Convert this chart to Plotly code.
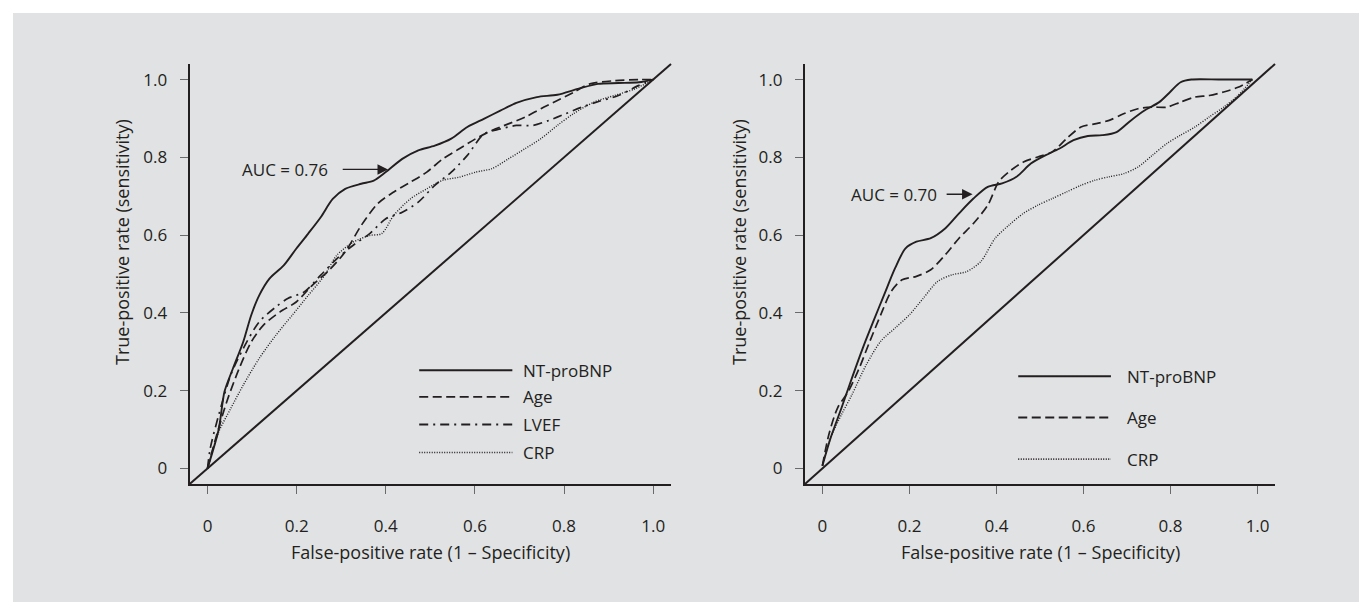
import plotly.graph_objects as go

W, H = 1367, 602

# ---------------- data: left panel ----------------
L_nt_x = [0.0, 0.025, 0.038, 0.057, 0.08, 0.098, 0.116, 0.139, 0.171, 0.199, 0.226, 0.254, 0.281, 0.309, 0.345, 0.373, 0.40, 0.437, 0.473, 0.51, 0.547, 0.583, 0.62, 0.657, 0.693, 0.739, 0.785, 0.831, 0.876, 0.922, 0.968, 1.0]
L_nt_y = [0.0, 0.10, 0.197, 0.257, 0.325, 0.394, 0.445, 0.488, 0.522, 0.565, 0.604, 0.646, 0.693, 0.719, 0.732, 0.74, 0.762, 0.796, 0.818, 0.83, 0.848, 0.878, 0.899, 0.92, 0.94, 0.955, 0.961, 0.976, 0.989, 0.991, 0.993, 1.0]

L_age_x = [0.0, 0.016, 0.043, 0.071, 0.098, 0.125, 0.162, 0.199, 0.235, 0.272, 0.309, 0.345, 0.382, 0.418, 0.455, 0.492, 0.528, 0.565, 0.602, 0.638, 0.675, 0.712, 0.748, 0.785, 0.821, 0.858, 0.913, 0.968, 1.0]
L_age_y = [0.0, 0.068, 0.171, 0.257, 0.325, 0.368, 0.402, 0.428, 0.471, 0.509, 0.557, 0.625, 0.681, 0.711, 0.736, 0.762, 0.796, 0.822, 0.848, 0.869, 0.886, 0.903, 0.925, 0.946, 0.967, 0.989, 0.997, 1.0, 1.0]

L_lvef_x = [0.0, 0.006, 0.025, 0.052, 0.08, 0.116, 0.153, 0.18, 0.217, 0.254, 0.29, 0.327, 0.364, 0.40, 0.437, 0.473, 0.51, 0.547, 0.583, 0.62, 0.657, 0.693, 0.73, 0.766, 0.803, 0.84, 0.876, 0.922, 0.968, 1.0]
L_lvef_y = [0.0, 0.051, 0.137, 0.24, 0.308, 0.377, 0.415, 0.437, 0.454, 0.497, 0.539, 0.574, 0.604, 0.642, 0.659, 0.685, 0.728, 0.762, 0.805, 0.86, 0.873, 0.882, 0.882, 0.895, 0.912, 0.929, 0.943, 0.959, 0.985, 1.0]

L_crp_x = [0.0, 0.006, 0.025, 0.052, 0.08, 0.116, 0.153, 0.19, 0.226, 0.263, 0.29, 0.327, 0.364, 0.391, 0.418, 0.455, 0.492, 0.528, 0.565, 0.602, 0.638, 0.675, 0.712, 0.748, 0.785, 0.821, 0.867, 0.913, 0.959, 1.0]
L_crp_y = [0.0, 0.026, 0.094, 0.154, 0.214, 0.283, 0.342, 0.394, 0.445, 0.497, 0.548, 0.582, 0.599, 0.604, 0.651, 0.693, 0.719, 0.741, 0.749, 0.762, 0.771, 0.796, 0.822, 0.848, 0.882, 0.912, 0.942, 0.959, 0.976, 1.0]

# ---------------- data: right panel ----------------
R_nt_x = [0.0, 0.019, 0.044, 0.068, 0.093, 0.117, 0.142, 0.167, 0.191, 0.216, 0.249, 0.282, 0.314, 0.347, 0.38, 0.413, 0.446, 0.479, 0.512, 0.544, 0.577, 0.61, 0.643, 0.676, 0.709, 0.741, 0.774, 0.799, 0.823, 0.848, 0.914, 0.988]
R_nt_y = [0.007, 0.079, 0.156, 0.233, 0.31, 0.378, 0.447, 0.515, 0.566, 0.583, 0.592, 0.617, 0.656, 0.694, 0.724, 0.733, 0.75, 0.784, 0.805, 0.822, 0.844, 0.855, 0.857, 0.865, 0.895, 0.921, 0.942, 0.968, 0.993, 1.0, 1.0, 1.0]

R_age_x = [0.0, 0.015, 0.035, 0.06, 0.085, 0.109, 0.134, 0.158, 0.183, 0.216, 0.249, 0.282, 0.314, 0.347, 0.38, 0.405, 0.429, 0.462, 0.495, 0.528, 0.561, 0.594, 0.626, 0.659, 0.692, 0.725, 0.758, 0.791, 0.823, 0.856, 0.889, 0.922, 0.955, 0.988]
R_age_y = [0.007, 0.088, 0.156, 0.199, 0.259, 0.327, 0.395, 0.455, 0.485, 0.494, 0.511, 0.549, 0.592, 0.63, 0.677, 0.737, 0.763, 0.788, 0.801, 0.814, 0.848, 0.878, 0.886, 0.895, 0.912, 0.925, 0.929, 0.929, 0.942, 0.955, 0.959, 0.968, 0.98, 1.0]

R_crp_x = [0.0, 0.019, 0.044, 0.068, 0.101, 0.134, 0.167, 0.2, 0.232, 0.265, 0.298, 0.331, 0.364, 0.397, 0.429, 0.462, 0.495, 0.528, 0.561, 0.594, 0.626, 0.659, 0.692, 0.725, 0.758, 0.791, 0.823, 0.856, 0.889, 0.922, 0.955, 0.988]
R_crp_y = [0.007, 0.079, 0.139, 0.19, 0.267, 0.327, 0.361, 0.395, 0.438, 0.481, 0.498, 0.506, 0.532, 0.592, 0.626, 0.656, 0.677, 0.694, 0.711, 0.728, 0.741, 0.75, 0.758, 0.775, 0.805, 0.835, 0.857, 0.878, 0.904, 0.929, 0.959, 1.0]

tick_vals = [0, 0.2, 0.4, 0.6, 0.8, 1.0]
tick_text = ["0", "0.2", "0.4", "0.6", "0.8", "1.0"]
auc_labels = ["AUC = 0.76", "AUC = 0.70"]
x_title = "False-positive rate (1 – Specificity)"
y_title = "True-positive rate (sensitivity)"

# ---------------- styling ----------------
INK = "#231f20"
BG = "#e1e2e4"
FONT = "Open Sans"
FS = 17
FS_TITLE = 18
AX_RANGE = [-0.04, 1.04]

DASH = {"NT-proBNP": "solid", "Age": "9px,4.5px", "LVEF": "9px,5px,2px,5px", "CRP": "1px,1.5px"}
WIDTH = {"NT-proBNP": 1.9, "Age": 1.7, "LVEF": 1.7, "CRP": 1.4}

fig = go.Figure()

left_series = [("NT-proBNP", L_nt_x, L_nt_y), ("Age", L_age_x, L_age_y),
               ("LVEF", L_lvef_x, L_lvef_y), ("CRP", L_crp_x, L_crp_y)]
right_series = [("NT-proBNP", R_nt_x, R_nt_y), ("Age", R_age_x, R_age_y),
                ("CRP", R_crp_x, R_crp_y)]

for name, xs, ys in left_series:
    fig.add_trace(go.Scatter(x=xs, y=ys, mode="lines", name=name, showlegend=False,
                             line=dict(color=INK, width=WIDTH[name], dash=DASH[name],
                                       shape="spline", smoothing=0.8),
                             xaxis="x", yaxis="y"))
for name, xs, ys in right_series:
    fig.add_trace(go.Scatter(x=xs, y=ys, mode="lines", name=name, showlegend=False,
                             line=dict(color=INK, width=WIDTH[name], dash=DASH[name],
                                       shape="spline", smoothing=0.8),
                             xaxis="x2", yaxis="y2"))

# plot-area geometry (pixels)
L_X0, L_X1 = 181.7, 663.0
R_X0, R_X1 = 797.0, 1267.0
Y_TOP, Y_BOT = 56.0, 476.0

def px(v):
    return v / W

def py(v):
    return 1 - v / H

axis_common = dict(range=AX_RANGE, showline=True, linecolor=INK, linewidth=2.2,
                   showgrid=False, zeroline=False, ticks="outside", ticklen=8,
                   tickwidth=1, tickcolor="#6a6a6a", tickvals=tick_vals, ticktext=tick_text,
                   tickfont=dict(family=FONT, size=FS, color=INK), fixedrange=True)

fig.update_layout(
    width=W, height=H, margin=dict(l=0, r=0, t=0, b=0),
    paper_bgcolor="white", plot_bgcolor="rgba(0,0,0,0)",
    showlegend=False,
    xaxis=dict(domain=[px(L_X0), px(L_X1)], anchor="y", ticklabelstandoff=17, **axis_common),
    yaxis=dict(domain=[py(Y_BOT), py(Y_TOP)], anchor="x", ticklabelstandoff=9, **axis_common),
    xaxis2=dict(domain=[px(R_X0), px(R_X1)], anchor="y2", ticklabelstandoff=17, **axis_common),
    yaxis2=dict(domain=[py(Y_BOT), py(Y_TOP)], anchor="x2", ticklabelstandoff=9, **axis_common),
)

shapes = [
    dict(type="rect", xref="paper", yref="paper", x0=px(5), x1=1, y0=0, y1=py(5),
         fillcolor=BG, line=dict(width=0), layer="below"),
    # diagonal reference lines (axis ranges are equal, so the domain diagonal is y = x)
    dict(type="line", xref="x domain", yref="y domain", x0=0, y0=0, x1=1, y1=1,
         line=dict(color=INK, width=2)),
    dict(type="line", xref="x2 domain", yref="y2 domain", x0=0, y0=0, x1=1, y1=1,
         line=dict(color=INK, width=2)),
]

annotations = []

# legends (drawn manually)
legend_cfg = [
    ("x", "y", left_series, 0.475, 0.684, 0.704, [0.2526, 0.184, 0.113, 0.041]),
    ("x2", "y2", right_series, 0.45, 0.663, 0.696, [0.237, 0.131, 0.024]),
]
for xr, yr, series, lx0, lx1, tx, rows in legend_cfg:
    for (name, _, _), ry in zip(series, rows):
        shapes.append(dict(type="line", xref=xr, yref=yr, x0=lx0, x1=lx1, y0=ry, y1=ry,
                           line=dict(color=INK, width=WIDTH[name] + 0.2, dash=DASH[name])))
        annotations.append(dict(xref=xr, yref=yr, x=tx, y=ry, text=name, showarrow=False,
                                xanchor="left", yanchor="middle",
                                font=dict(family=FONT, size=FS, color=INK)))

# AUC arrows
auc_cfg = [("x", "y", auc_labels[0], 0.275, 0.30, 0.405, 0.769),
           ("x2", "y2", auc_labels[1], 0.267, 0.282, 0.345, 0.705)]
for xr, yr, label, text_right, tail, head, yy in auc_cfg:
    annotations.append(dict(xref=xr, yref=yr, x=text_right, y=yy, text=label, showarrow=False,
                            xanchor="right", yanchor="middle",
                            font=dict(family=FONT, size=FS, color=INK)))
    annotations.append(dict(xref=xr, yref=yr, x=head, y=yy, ax=tail, ay=yy,
                            axref=xr, ayref=yr, text="", showarrow=True,
                            arrowhead=2, arrowsize=1.5, arrowwidth=1.4, arrowcolor=INK))

# axis titles
for cx in (114, 731):
    annotations.append(dict(xref="paper", yref="paper", x=px(cx), y=py(234), text=y_title,
                            textangle=-90, showarrow=False, xanchor="center", yanchor="middle",
                            font=dict(family=FONT, size=FS_TITLE, color=INK)))
for xr in ("x", "x2"):
    annotations.append(dict(xref=xr, yref="paper", x=0.5, y=py(544), text=x_title,
                            showarrow=False, xanchor="center", yanchor="middle",
                            font=dict(family=FONT, size=FS_TITLE, color=INK)))

fig.update_layout(shapes=shapes, annotations=annotations)
fig.write_html("out.html")
